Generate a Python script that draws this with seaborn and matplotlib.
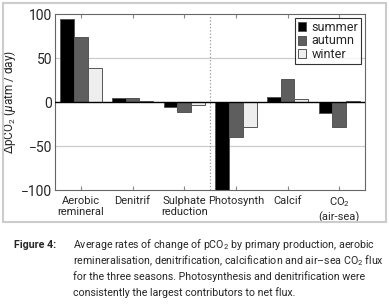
import pandas as pd
import matplotlib.pyplot as plt
import matplotlib.patches as mpatches
import seaborn as sns

# valores
categorias = ['Aerobic\nremineral', 'Denitrif', 'Sulphate\nreduction',
              'Photosynth', 'Calcif', 'CO$_2$\n(air-sea)']
summer = [94, 5, -5.5, -100, 5.5, -12.5]
autumn = [74, 5, -11, -40, 26, -28]
winter = [39, 1.5, -3.5, -28, 3, 1]
estacoes = ['summer', 'autumn', 'winter']
cores = ['#000000', '#5e5e5e', '#eeeeee']

dados = pd.DataFrame({
    'cat': categorias * 3,
    'val': summer + autumn + winter,
    'season': [s for s in estacoes for _ in categorias],
})

sns.set_style('white')
plt.rcParams['font.family'] = ['Roboto', 'DejaVu Sans']
plt.rcParams['mathtext.fontset'] = 'custom'
plt.rcParams['mathtext.rm'] = 'Roboto'
plt.rcParams['mathtext.it'] = 'Roboto:italic'

fig = plt.figure(figsize=(3.89, 3.07), dpi=100)
ax = fig.add_axes([55 / 389, 117 / 307, 310 / 389, 176 / 307])

sns.barplot(data=dados, x='cat', y='val', hue='season', palette=cores,
            edgecolor='#555555', linewidth=0.7, width=0.8, ax=ax)

ax.set_ylim(-100, 100)
ax.set_xlim(-0.5, 5.5)
ax.set_yticks([-100, -50, 0, 50, 100])
ax.set_yticklabels(['\u2212100', '\u221250', '0', '50', '100'], fontsize=10)
ax.axhline(50, color='#cccccc', lw=0.9, zorder=0)
ax.axhline(-50, color='#cccccc', lw=0.9, zorder=0)
ax.axhline(0, color='black', lw=1.0, zorder=3)
ax.axvline(2.5, color='#999999', lw=0.9, ls=':', zorder=0)

ax.set_xlabel('')
ax.set_ylabel('\u0394pCO$_2$ ($\\mu$atm / day)', fontsize=8.5, labelpad=2)
ax.tick_params(axis='x', labelsize=8, direction='in', length=3, top=True,
               bottom=True, color='#888888', pad=4)
ax.tick_params(axis='y', direction='in', length=0, pad=2)
for s in ax.spines.values():
    s.set_color('#666666')
    s.set_linewidth(0.8)

leg = ax.legend(loc='upper right', fontsize=9, frameon=True, fancybox=False,
                edgecolor='black', handlelength=0.7, handleheight=0.7,
                handletextpad=0.4, labelspacing=0.05, borderpad=0.25,
                borderaxespad=0.3)
leg.get_frame().set_linewidth(0.8)

# moldura do painel
fig.patches.append(mpatches.Rectangle((3 / 389, 85 / 307), 383 / 389, 219 / 307,
                                      transform=fig.transFigure, fill=False,
                                      edgecolor='#cccccc', lw=1.5))

# legenda da figura
fig.text(14 / 389, 1 - 245 / 307, 'Figure 4:', fontsize=7.7, fontweight='bold',
         va='center', ha='left')
linhas = ['Average rates of change of pCO$_2$ by primary production, aerobic',
          'remineralisation, denitrification, calcification and air\u2013sea CO$_2$ flux',
          'for the three seasons. Photosynthesis and denitrification were',
          'consistently the largest contributors to net flux.']
for i, t in enumerate(linhas):
    fig.text(73 / 389, 1 - (245 + 16 * i) / 307, t, fontsize=7.7, va='center', ha='left')

fig.savefig('out.png', dpi=100)
